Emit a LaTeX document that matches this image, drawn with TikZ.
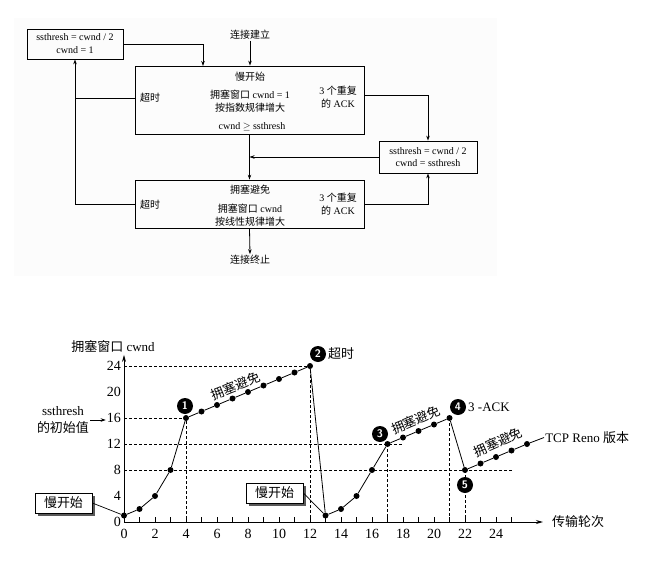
\documentclass[tikz,border=0pt]{standalone}
\usepackage{fontspec}
\setmainfont{Liberation Serif}
\newfontfamily\cjk{Noto Sans CJK SC}
\usetikzlibrary{arrows.meta,shadows}
\begin{document}
\begin{tikzpicture}[x=1pt,y=-1pt,
  ft/.style={font=\fontsize{10}{13}\selectfont, inner sep=1pt, align=center},
  gt/.style={font=\fontsize{13}{15}\selectfont, inner sep=1pt, align=center},
  nt/.style={font=\fontsize{14}{16}\selectfont, inner sep=1pt},
  fbox/.style={draw, line width=0.8pt, inner sep=1pt},
  farr/.style={line width=0.8pt, -{Stealth[length=5pt,width=3.5pt]}},
  fline/.style={line width=0.8pt},
  dot/.style={circle, fill=black, inner sep=0pt, minimum size=6pt},
  numc/.style={circle, fill=black, text=white, inner sep=0pt, minimum size=16pt, font=\fontsize{11}{11}\selectfont\sffamily\bfseries},
  guide/.style={line width=0.6pt, dash pattern=on 3pt off 2pt},
  curve/.style={line width=0.8pt},
  ssbox/.style={draw, fill=white, line width=0.7pt, minimum width=57pt, minimum height=20pt, inner sep=0pt,
    font=\fontsize{13}{15}\selectfont,
    drop shadow={fill=black!65, opacity=1, shadow xshift=2.5pt, shadow yshift=-2.5pt}},
]
\useasboundingbox (0,0) rectangle (670,562);
\fill[black!1] (14,18) rectangle (497,276);

% ---------------- flowchart ----------------
\node[fbox, ft, minimum width=96pt, minimum height=30pt] (A) at (75,44) {ssthresh = cwnd / 2\\cwnd = 1};
\node[fbox, minimum width=229pt, minimum height=68pt] (SS) at (249.5,100) {};
\node[fbox, minimum width=229pt, minimum height=48pt] (CA) at (249.5,204) {};
\node[fbox, ft, font=\fontsize{10}{12}\selectfont, minimum width=98pt, minimum height=32pt] (C) at (428,157) {ssthresh = cwnd / 2\\cwnd = ssthresh};

\node[ft] (ssT) at (250,77) {\cjk 慢开始};
\node[ft] (ssB) at (250,101) {{\cjk 拥塞窗口} cwnd = 1\\{\cjk 按指数规律增大}};
\node[ft] (ssC) at (252,127) {cwnd $\geq$ ssthresh};
\node[ft] (ssTo) at (150,98) {\cjk 超时};
\node[ft] (ssAck) at (338,97) {3 {\cjk 个重复}\\{\cjk 的} ACK};
\node[ft] (caT) at (250,190) {\cjk 拥塞避免};
\node[ft] (caB) at (250,215) {{\cjk 拥塞窗口} cwnd\\{\cjk 按线性规律增大}};
\node[ft] (caTo) at (150,205) {\cjk 超时};
\node[ft] (caAck) at (338,204) {3 {\cjk 个重复}\\{\cjk 的} ACK};
\node[ft] (open) at (250,35) {\cjk 连接建立};
\node[ft] (close) at (250,260) {\cjk 连接终止};

\coordinate (aIn) at (203,66);
\coordinate (toL) at ([yshift=2pt]SS.west);
\coordinate (ackR) at ([yshift=5pt]SS.east);

\draw[farr] (open.south) -- (open.south |- SS.north);
\draw[farr] (A.east) -| (aIn);
\draw[fline] (toL) -- (toL -| A.south);
\draw[farr] (CA.west) -| (A.south);
\draw[farr] (ackR) -| (C.north);
\draw[farr] (CA.east) -| (C.south);
\draw[farr] (C.west) -- (C.west -| SS.south);
\draw[farr] (SS.south) -- (CA.north);
\draw[farr] (CA.south) -- (close.north);

% ---------------- graph ----------------
\begin{scope}[shift={(124,522)}, x=15.5pt, y=6.5pt]
  \draw[guide] (0,24) -- (12,24) -- (12,0);
  \draw[guide] (0,16) -- (4,16) -- (4,0);
  \draw[guide] (0,12) -- (18,12);
  \draw[guide] (17,12) -- (17,0);
  \draw[guide] (0,8) -- (25,8);
  \draw[guide] (21,16) -- (21,0);
  \draw[guide] (22,8) -- (22,0);

  \coordinate (O) at (0,0);
  \coordinate (xe) at (27.03,0);
  \coordinate (ye) at (0,25.7);
  \draw[line width=0.8pt, -{Stealth[length=7pt,width=4pt]}] (O) -- (xe);
  \draw[line width=0.8pt, -{Stealth[length=7pt,width=4pt]}] (O) -- (ye);
  \foreach \i in {1,...,25} {\draw[line width=0.7pt] (\i,0) -- ++(0,0.7);}
  \foreach \i in {0,2,...,24} {\node[nt] (xl\i) at (\i,-1.8) {\i};}
  \foreach \v in {0,4,...,24} {\node[nt, anchor=east] (yl\v) at (-0.12,\v) {\v};}

  \foreach \v [count=\i from 0] in {1,2,4,8,16,17,18,19,20,21,22,23,24,1,2,4,8,12,13,14,15,16,8,9,10,11,12}
    {\node[dot] (p\i) at (\i,\v) {};}
  \foreach \i in {0,...,25} {\pgfmathtruncatemacro\j{\i+1}\draw[curve] (p\i) -- (p\j);}
  \node[gt, anchor=west] (reno) at (27.1,13) {TCP Reno {\cjk 版本}};
  \draw[curve] (p26) -- (reno.west);
\end{scope}

\node[gt] (ylab) at (113,347) {{\cjk 拥塞窗口} cwnd};
\node[gt, font=\fontsize{13}{17}\selectfont] (ssl) at (63,420) {ssthresh\\{\cjk 的初始值}};
\draw[line width=0.7pt, -{Stealth[length=5pt,width=3.5pt]}] (ssl.east) -- (ssl.east -| yl16.west);
\node[gt, anchor=west] (xlab) at (551,522) {\cjk 传输轮次};

\node[numc] (c1) at (185,406) {1};
\node[numc] (c2) at (318,354) {2};
\node[gt, anchor=west] (to2) at (327,354) {\cjk 超时};
\node[numc] (c3) at (380,434) {3};
\node[numc] (c4) at (458,407) {4};
\node[gt, anchor=west] (ack4) at (467,407) {3 -ACK};
\node[numc] (c5) at (465,485) {5};

\node[gt, rotate=22] (ca1) at (236,386) {\cjk 拥塞避免};
\node[gt, rotate=23] (ca2) at (416,420) {\cjk 拥塞避免};
\node[gt, rotate=24] (ca3) at (498,442) {\cjk 拥塞避免};

\node[ssbox] (ssb1) at (63.5,503) {\cjk 慢开始};
\draw[line width=0.7pt] (ssb1.east) -- (p0);
\node[ssbox] (ssb2) at (274.5,493) {\cjk 慢开始};
\draw[line width=0.7pt] (ssb2.east) -- (p13);
\end{tikzpicture}
\end{document}
